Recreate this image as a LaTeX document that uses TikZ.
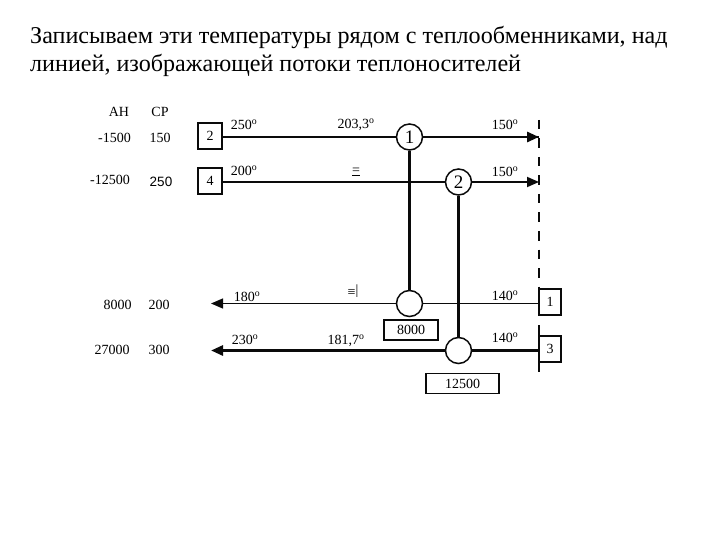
\documentclass[tikz,border=0pt]{standalone}
\usepackage{fontspec}
\setmainfont{Liberation Serif}
\setsansfont{Liberation Sans}
\usetikzlibrary{arrows.meta,positioning,calc}
\definecolor{inkblack}{RGB}{10, 10, 10}
\newcommand{\tempdeg}[1]{#1\textsuperscript{o}}
\tikzset{
    flowbox/.style={draw=inkblack, line width=1.7pt, rectangle, minimum width=24pt, minimum height=26pt, inner sep=0pt, font=\fontsize{14}{14}\selectfont},
    loadbox/.style={draw=inkblack, line width=1.7pt, rectangle, minimum height=20pt, inner sep=0pt, font=\fontsize{14}{14}\selectfont},
    exchanger/.style={draw=inkblack, line width=1.5pt, circle, fill=white, minimum size=26pt, inner sep=0pt, font=\fontsize{19}{19}\selectfont},
    tlabel/.style={inner sep=0pt, font=\fontsize{14}{14}\selectfont},
    headline/.style={anchor=base west, inner sep=0pt, font=\fontsize{24.1}{28}\selectfont},
    stream/.style={line width=1.8pt, draw=inkblack},
    riser/.style={line width=2.2pt, draw=inkblack},
    thinstream/.style={line width=1.2pt, draw=inkblack},
    hotend/.style={line width=2.8pt, draw=inkblack},
    endtip/.style={-{Triangle[length=12pt,width=10pt]}}
}
\begin{document}
\begin{tikzpicture}[x=1pt, y=-1pt, >=stealth]
    \useasboundingbox (0,0) rectangle (720,540);
    \node [headline] (title) at (30,43.3) {Записываем эти температуры рядом с теплообменниками, над};
    \node [headline] (titlenext) at (30,71.5) {линией, изображающей потоки теплоносителей};

    \node [tlabel] (headh) at (119,112) {AH};
    \node [tlabel] (headcp) at (160,112) {CP};
    \node [tlabel] (h1) at (114.5,138) {-1500};
    \node [tlabel] (cp1) at (160,138) {150};
    \node [tlabel] (h2) at (110,180) {-12500};
    \node [tlabel, font=\fontsize{13.5}{14}\sffamily\selectfont] (cp2) at (161,182) {250};
    \node [tlabel] (h3) at (117.5,305) {8000};
    \node [tlabel] (cp3) at (159,305) {200};
    \node [tlabel] (h4) at (112,350) {27000};
    \node [tlabel] (cp4) at (159,350) {300};

    \node [flowbox] (hot2) at (210,136) {2};
    \node [flowbox] (hot4) at (210,181) {4};
    \node [flowbox, minimum width=22pt] (cold1) at (550,302) {1};
    \node [flowbox, minimum width=22pt] (cold3) at (550,349) {3};

    \node [exchanger] (hx1) at (409.5,137) {1};
    \node [exchanger] (hx2) at (458.5,182) {2};
    \node [exchanger] (hx1low) at (409.5,303.5) {};
    \node [exchanger] (hx2low) at (458.5,350.5) {};

    \node [loadbox, minimum width=54pt] (load1) at (411,330) {8000};
    \node [loadbox, minimum width=73pt] (load2) at (462.5,383.5) {12500};

    \coordinate (top1) at (539,137);
    \coordinate (top2) at (539,182);
    \coordinate (low1) at (211,303.5);
    \coordinate (low2) at (211,350.5);
    \coordinate (barup) at (539,120);
    \coordinate (bardown) at (539,289);
    \coordinate (baredge) at (539,325);
    \coordinate (barend) at (539,372);
    \coordinate (hotstart) at (460,137);

    \draw [stream] (hot2.east |- hx1) -- (hx1);
    \draw [stream] (hx1) -- (top1);
    \draw [hotend, endtip] (hotstart) -- (top1);
    \draw [stream] (hot4.east |- hx2) -- (hx2);
    \draw [stream, endtip] (hx2) -- (top2);
    \draw [thinstream, endtip] (hx1low) -- (low1);
    \draw [thinstream] (hx1low) -- (cold1.west |- hx1low);
    \draw [hotend, endtip] (hx2low) -- (low2);
    \draw [riser] (hx2low) -- (cold3.west |- hx2low);
    \draw [riser] (hx1) -- (hx1low);
    \draw [riser] (hx2) -- (hx2low);
    \draw [line width=1.6pt, draw=inkblack, dash pattern=on 9.5pt off 9pt] (barup) -- (bardown);
    \draw [line width=1.6pt, draw=inkblack] (baredge) -- (barend);

    \node [tlabel] (t250) at (244,125) {\tempdeg{250}};
    \node [tlabel] (t2033) at (356,125) {\tempdeg{203,3}};
    \node [tlabel] (t150a) at (505,125) {\tempdeg{150}};
    \node [tlabel] (t200) at (244,171) {\tempdeg{200}};
    \node [tlabel] (teq) at (356,172) {\underline{=}};
    \node [tlabel] (t150b) at (505,172) {\tempdeg{150}};
    \node [tlabel] (t180) at (247,297) {\tempdeg{180}};
    \node [tlabel] (teqlow) at (353,291) {≡\raisebox{2pt}{|}};
    \node [tlabel] (t140a) at (505,296) {\tempdeg{140}};
    \node [tlabel] (t230) at (245,340) {\tempdeg{230}};
    \node [tlabel] (t1817) at (346,341) {\tempdeg{181,7}};
    \node [tlabel] (t140b) at (505,338) {\tempdeg{140}};
\end{tikzpicture}
\end{document}
